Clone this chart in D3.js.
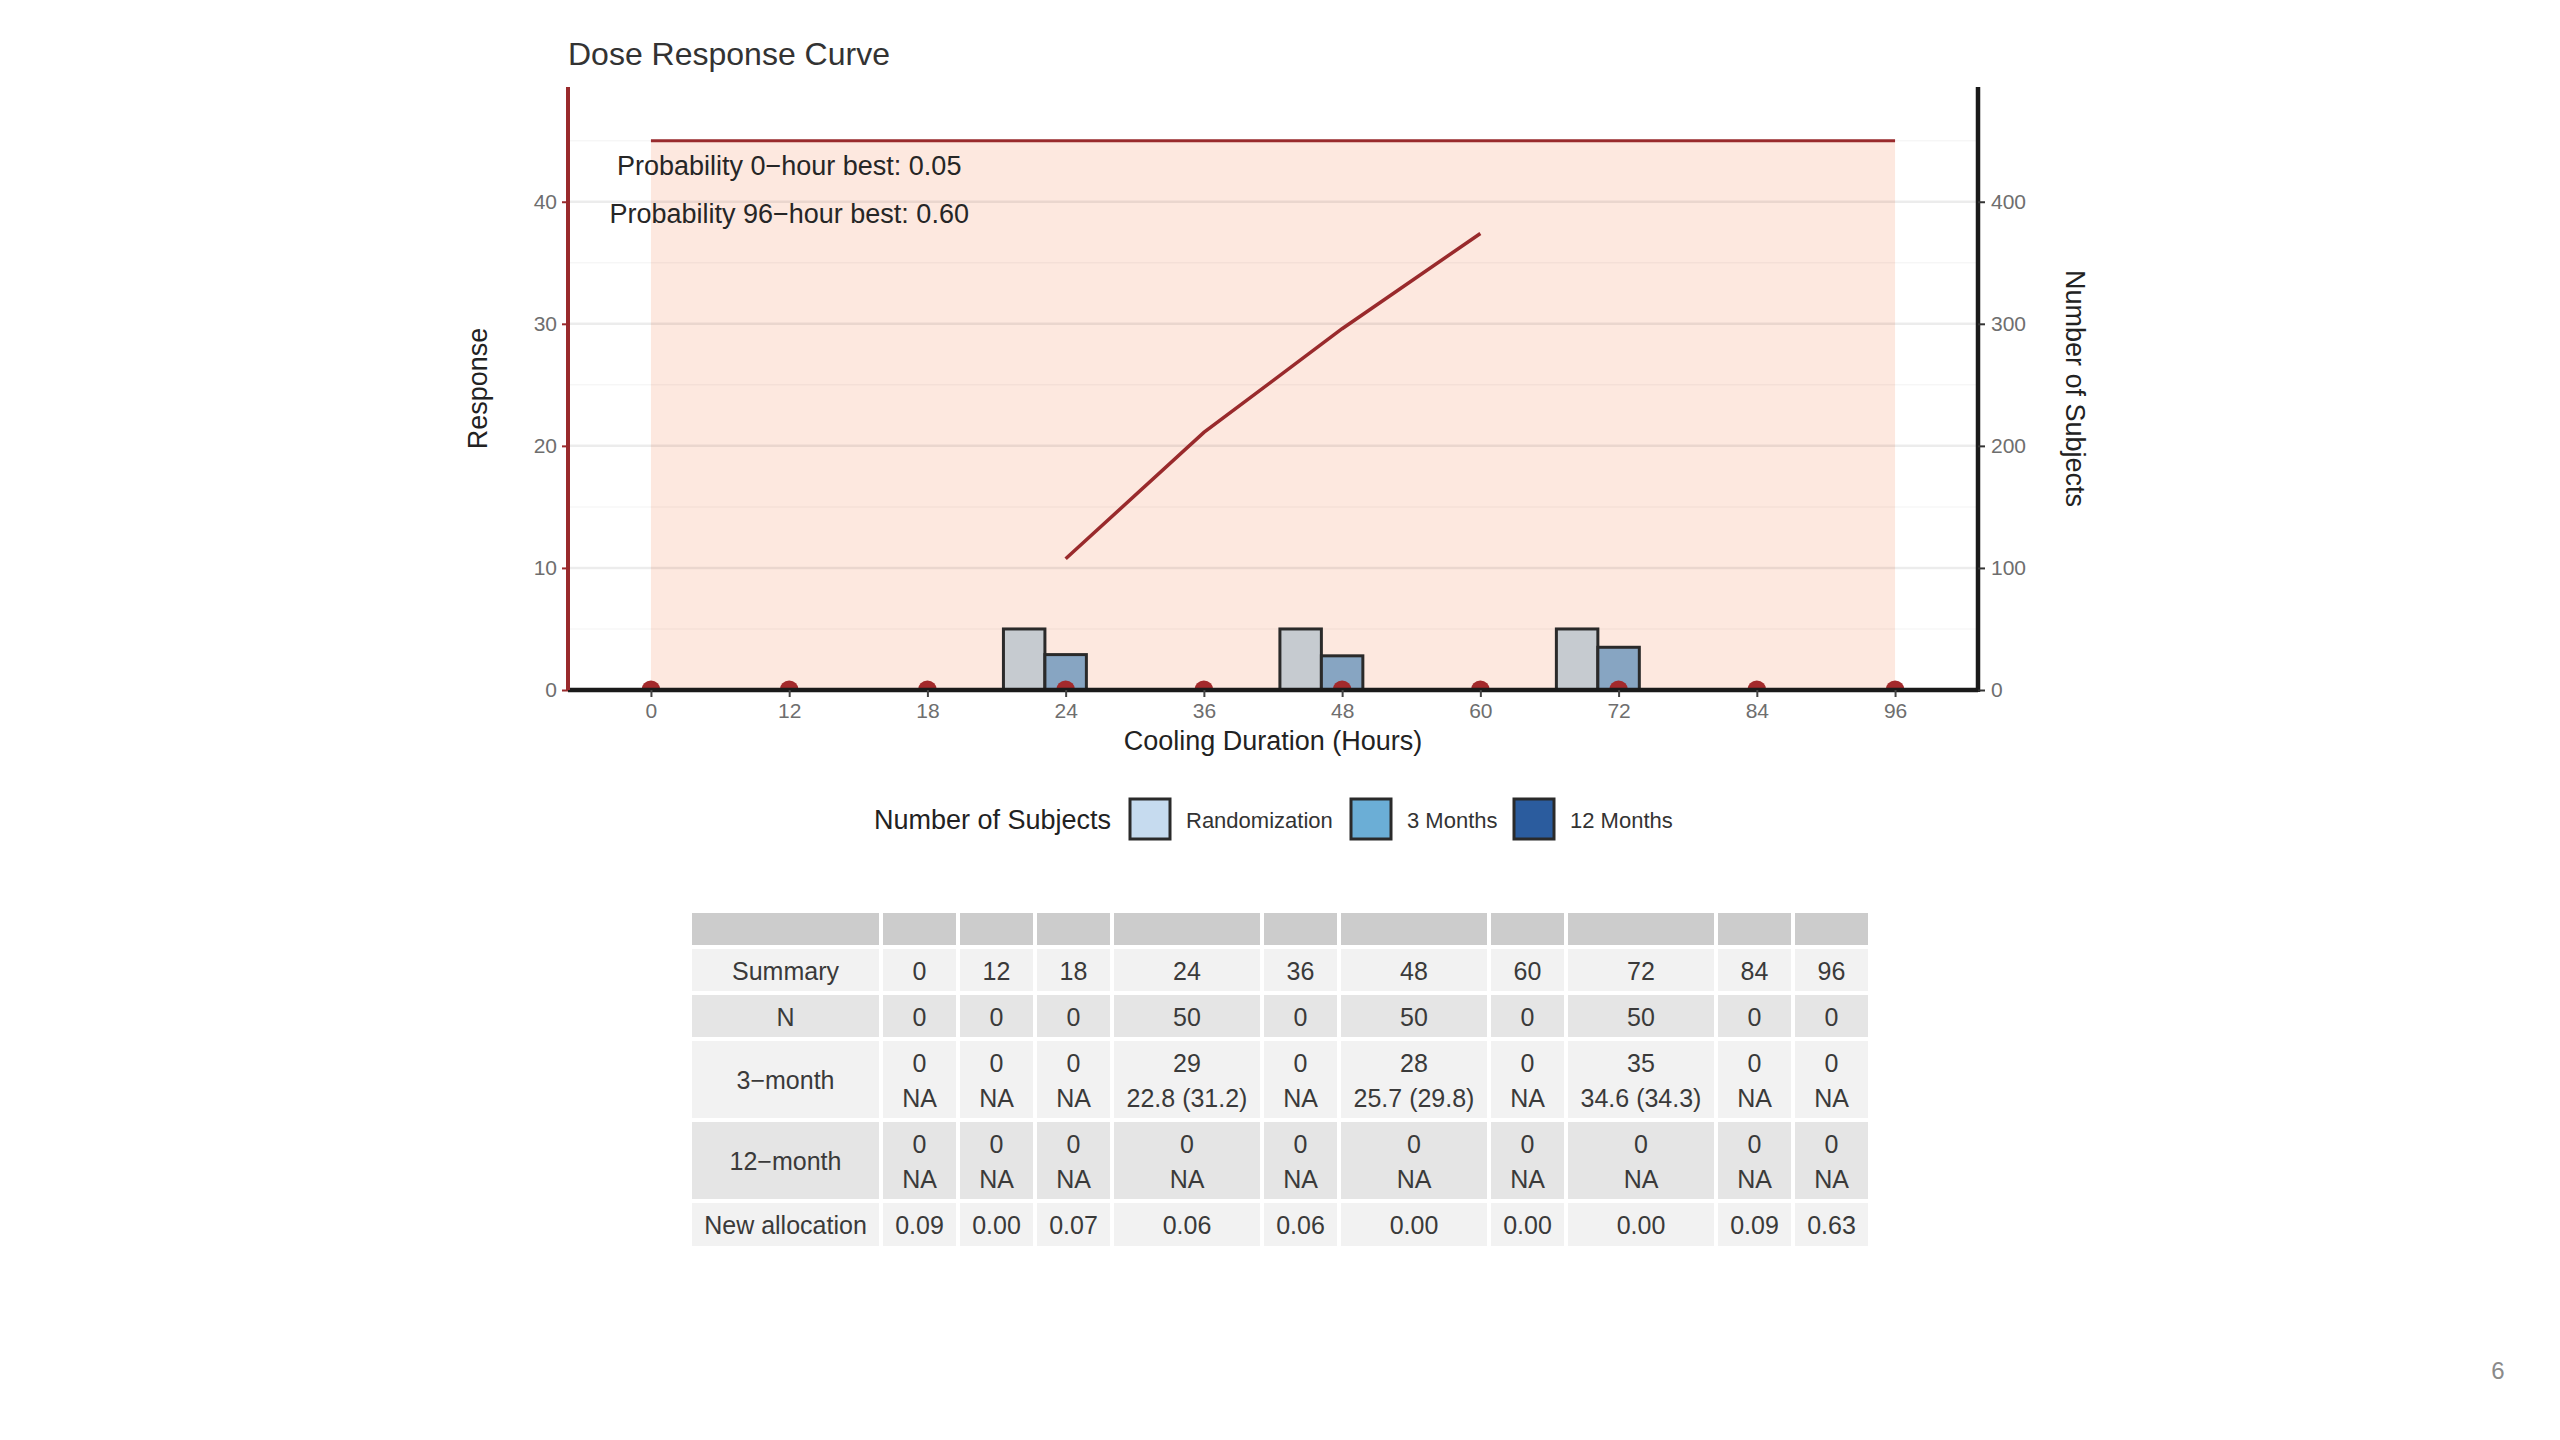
<!DOCTYPE html>
<html>
<head>
<meta charset="utf-8">
<script src="https://cdn.jsdelivr.net/npm/d3@7"></script>
<style>
  body { margin: 0; background: #fff; }
  svg { display: block; font-family: "Liberation Sans", Arial, sans-serif; }
</style>
</head>
<body>
<svg id="chart" width="2560" height="1440"></svg>
<script>
// categories (cooling duration, hours)
var hours = ["0", "12", "18", "24", "36", "48", "60", "72", "84", "96"];
// number of subjects per arm
var randomized = [0, 0, 0, 50, 0, 50, 0, 50, 0, 0];
var month3 = [0, 0, 0, 29, 0, 28, 0, 35, 0, 0];
var month12 = [0, 0, 0, 0, 0, 0, 0, 0, 0, 0];
var groups = ["Randomization", "3 Months", "12 Months"];
// fitted response curve
var curveHours = ["24", "36", "48", "60"];
var curveResponse = [10.75, 21.1, 29.6, 37.4];
var bandTop = 45;
// annotations
var noteText = ["Probability 0\u2212hour best: 0.05", "Probability 96\u2212hour best: 0.60"];
var noteY = [43, 39];
var noteHour = "12";
var leftTicks = [0, 10, 20, 30, 40];
var minorTicks = [5, 15, 25, 35, 45];
var rightTicks = [0, 100, 200, 300, 400];

// summary table
var rowLabels = ["Summary", "N", "3\u2212month", "12\u2212month", "New allocation"];
var nRow = ["0", "0", "0", "50", "0", "50", "0", "50", "0", "0"];
var month3N = ["0", "0", "0", "29", "0", "28", "0", "35", "0", "0"];
var month3Stat = ["NA", "NA", "NA", "22.8 (31.2)", "NA", "25.7 (29.8)", "NA", "34.6 (34.3)", "NA", "NA"];
var month12N = ["0", "0", "0", "0", "0", "0", "0", "0", "0", "0"];
var month12Stat = ["NA", "NA", "NA", "NA", "NA", "NA", "NA", "NA", "NA", "NA"];
var allocation = ["0.09", "0.00", "0.07", "0.06", "0.06", "0.00", "0.00", "0.00", "0.09", "0.63"];

var svg = d3.select("#chart");
var red = "#992a2c";

var pLeft = 568, pRight = 1978, pTop = 87, pBottom = 690;

var x = d3.scalePoint().domain(hours).range([pLeft, pRight]).padding(0.6);
var step = x.step();
var y = d3.scaleLinear().domain([0, 49.4]).range([pBottom, pTop]);
var y2 = d3.scaleLinear().domain([0, 494]).range([pBottom, pTop]);
var sub = d3.scaleBand().domain(groups).range([-0.45 * step, 0.45 * step]);

svg.append("defs").append("clipPath").attr("id", "panel")
  .append("rect").attr("x", pLeft).attr("y", pTop)
  .attr("width", pRight - pLeft).attr("height", pBottom - pTop);

// shaded band
svg.append("rect")
  .attr("x", x("0")).attr("y", y(bandTop))
  .attr("width", x("96") - x("0")).attr("height", y(0) - y(bandTop))
  .attr("fill", "#fde8df");

// grid
svg.append("g").selectAll("line").data(minorTicks).enter().append("line")
  .attr("x1", pLeft).attr("x2", pRight)
  .attr("y1", function(d) { return y(d); }).attr("y2", function(d) { return y(d); })
  .attr("stroke", "rgba(0,0,0,0.035)").attr("stroke-width", 1.5);
svg.append("g").selectAll("line").data(leftTicks.slice(1)).enter().append("line")
  .attr("x1", pLeft).attr("x2", pRight)
  .attr("y1", function(d) { return y(d); }).attr("y2", function(d) { return y(d); })
  .attr("stroke", "rgba(0,0,0,0.075)").attr("stroke-width", 2.5);

// top line of band
svg.append("line")
  .attr("x1", x("0")).attr("x2", x("96"))
  .attr("y1", y(bandTop)).attr("y2", y(bandTop))
  .attr("stroke", red).attr("stroke-width", 3);

// bars
var barFill = ["#c6cbd0", "#87a5c2", "#2b5c9e"];
var series = [randomized, month3, month12];
series.forEach(function(vals, gi) {
  svg.append("g").selectAll("rect").data(hours.filter(function(d, i) { return vals[i] > 0; })).enter()
    .append("rect")
    .attr("x", function(d) { return x(d) + sub(groups[gi]); })
    .attr("width", sub.bandwidth())
    .attr("y", function(d) { return y2(vals[hours.indexOf(d)]); })
    .attr("height", function(d) { return y2(0) - y2(vals[hours.indexOf(d)]); })
    .attr("fill", barFill[gi]).attr("stroke", "#2a2a2a").attr("stroke-width", 3);
});

// curve
var line = d3.line()
  .x(function(d) { return x(d[0]); })
  .y(function(d) { return y(d[1]); });
svg.append("path")
  .datum(curveHours.map(function(h, i) { return [h, curveResponse[i]]; }))
  .attr("d", line).attr("fill", "none").attr("stroke", red).attr("stroke-width", 3.5);

// points at zero (clipped to panel like ggplot)
svg.append("g").attr("clip-path", "url(#panel)")
  .selectAll("circle").data(hours).enter().append("circle")
  .attr("cx", function(d) { return x(d); }).attr("cy", y(0))
  .attr("r", 9.5).attr("fill", "#a32a2c");

// axes
var xAxis = svg.append("g").attr("transform", "translate(0," + pBottom + ")")
  .call(d3.axisBottom(x).tickSize(7).tickPadding(6));
xAxis.select(".domain").attr("d", "M" + pLeft + ",0H" + pRight).attr("stroke", "#1a1a1a").attr("stroke-width", 4.5);
xAxis.selectAll(".tick line").attr("stroke", "#444").attr("stroke-width", 2);
xAxis.selectAll(".tick text").attr("fill", "#6e6e6e").style("font-size", "21px").style("font-family", "Liberation Sans, Arial");

var yAxis = svg.append("g").attr("transform", "translate(" + pLeft + ",0)")
  .call(d3.axisLeft(y).tickValues(leftTicks).tickSize(6).tickPadding(5));
yAxis.select(".domain").attr("d", "M0," + pTop + "V" + pBottom).attr("stroke", red).attr("stroke-width", 4);
yAxis.selectAll(".tick line").attr("stroke", red).attr("stroke-width", 2);
yAxis.selectAll(".tick text").attr("fill", "#6e6e6e").style("font-size", "21px").style("font-family", "Liberation Sans, Arial");

var y2Axis = svg.append("g").attr("transform", "translate(" + pRight + ",0)")
  .call(d3.axisRight(y2).tickValues(rightTicks).tickSize(7).tickPadding(6));
y2Axis.select(".domain").attr("d", "M0," + pTop + "V" + (pBottom + 2)).attr("stroke", "#1a1a1a").attr("stroke-width", 4.5);
y2Axis.selectAll(".tick line").attr("stroke", "#333").attr("stroke-width", 2);
y2Axis.selectAll(".tick text").attr("fill", "#6e6e6e").style("font-size", "21px").style("font-family", "Liberation Sans, Arial");

// annotations
svg.append("g").selectAll("text").data(noteText).enter().append("text")
  .attr("x", x(noteHour)).attr("y", function(d, i) { return y(noteY[i]); })
  .attr("dy", "0.35em").attr("text-anchor", "middle")
  .attr("fill", "#262626").style("font-size", "27px")
  .text(function(d) { return d; });

// titles
svg.append("text").attr("x", 568).attr("y", 65)
  .attr("fill", "#333").style("font-size", "32px").text("Dose Response Curve");
svg.append("text").attr("x", (pLeft + pRight) / 2).attr("y", 750)
  .attr("text-anchor", "middle").attr("fill", "#222").style("font-size", "27px")
  .text("Cooling Duration (Hours)");
svg.append("text").attr("transform", "translate(487," + (pTop + pBottom) / 2 + ") rotate(-90)")
  .attr("text-anchor", "middle").attr("fill", "#222").style("font-size", "27px")
  .text("Response");
svg.append("text").attr("transform", "translate(2066," + (pTop + pBottom) / 2 + ") rotate(90)")
  .attr("text-anchor", "middle").attr("fill", "#222").style("font-size", "27px")
  .text("Number of Subjects");

// legend
var legendFill = ["#c6dbef", "#6baed6", "#2b5c9e"];
var legendX = [1130, 1351, 1514];
var lg = svg.append("g");
lg.append("text").attr("x", 874).attr("y", 820).attr("dy", "0.35em")
  .attr("fill", "#222").style("font-size", "27px").text("Number of Subjects");
groups.forEach(function(g, i) {
  lg.append("rect").attr("x", legendX[i]).attr("y", 799).attr("width", 40).attr("height", 40)
    .attr("fill", legendFill[i]).attr("stroke", "#2a2a2a").attr("stroke-width", 3);
  lg.append("text").attr("x", legendX[i] + 56).attr("y", 820).attr("dy", "0.35em")
    .attr("fill", "#333").style("font-size", "22px").text(g);
});

// table
var colW = [187].concat(month3Stat.map(function(s) { return s.length > 2 ? 146 : 73; }));
var rowH = [32, 42, 42, 77, 77, 43];
var gap = 4, tx = 692, ty = 913;
var colX = [], rowY = [];
colW.reduce(function(acc, w) { colX.push(acc); return acc + w + gap; }, tx);
rowH.reduce(function(acc, h) { rowY.push(acc); return acc + h + gap; }, ty);

var cells = [];
colW.forEach(function(w, c) {
  cells.push({ r: 0, c: c, lines: [], fill: "#cccccc" });
});
var rowsData = [
  [rowLabels[0]].concat(hours).map(function(s) { return [s]; }),
  [rowLabels[1]].concat(nRow).map(function(s) { return [s]; }),
  [[rowLabels[2]]].concat(month3N.map(function(s, i) { return [s, month3Stat[i]]; })),
  [[rowLabels[3]]].concat(month12N.map(function(s, i) { return [s, month12Stat[i]]; })),
  [rowLabels[4]].concat(allocation).map(function(s) { return [s]; })
];
rowsData.forEach(function(row, ri) {
  row.forEach(function(lines, c) {
    cells.push({ r: ri + 1, c: c, lines: lines, fill: ri % 2 === 0 ? "#f2f2f2" : "#e5e5e5" });
  });
});

var tg = svg.append("g");
tg.selectAll("rect").data(cells).enter().append("rect")
  .attr("x", function(d) { return colX[d.c]; }).attr("y", function(d) { return rowY[d.r]; })
  .attr("width", function(d) { return colW[d.c]; }).attr("height", function(d) { return rowH[d.r]; })
  .attr("fill", function(d) { return d.fill; });
cells.forEach(function(d) {
  var cx = colX[d.c] + colW[d.c] / 2;
  var cy = rowY[d.r] + rowH[d.r] / 2;
  var n = d.lines.length;
  d.lines.forEach(function(s, k) {
    tg.append("text").attr("x", cx).attr("y", cy + (k - (n - 1) / 2) * 35 + 1)
      .attr("dy", "0.35em").attr("text-anchor", "middle")
      .attr("fill", "#3a3a3a").style("font-size", "25px").text(s);
  });
});

// page number
svg.append("text").attr("x", 2498).attr("y", 1371).attr("dy", "0.35em")
  .attr("text-anchor", "middle").attr("fill", "#8a8a8a").style("font-size", "24px").text("6");
</script>
</body>
</html>
